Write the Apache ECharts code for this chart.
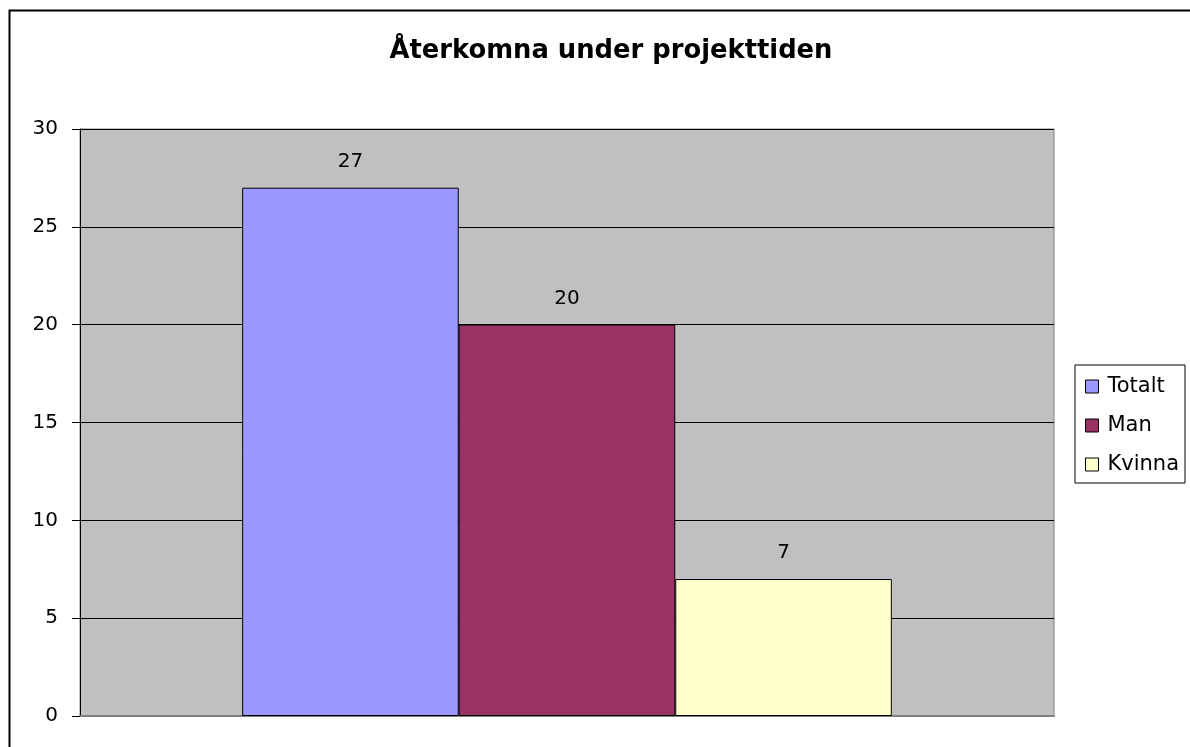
<!DOCTYPE html>
<html><head><meta charset="utf-8">
<script src="https://cdn.jsdelivr.net/npm/echarts@6/dist/echarts.min.js"></script>
<style>html,body{margin:0;padding:0;background:#fff}#c{width:1190px;height:747px}</style>
</head><body><div id="c"></div>
<script>
const title = 'Återkomna under projekttiden';
const categories = [''];
const seriesNames = ['Totalt', 'Man', 'Kvinna'];
const seriesValues = [[27], [20], [7]];
const colors = ['#9999ff', '#993366', '#ffffcc'];
const yTicks = { min: 0, max: 30, interval: 5 };
const FONT = 'DejaVu Sans';

const chart = echarts.init(document.getElementById('c'));
chart.setOption({
  animation: false,
  backgroundColor: '#fff',
  graphic: [{ type: 'rect', shape: { x: 9.5, y: 10.5, width: 1200, height: 800 }, style: { fill: 'none', stroke: '#000', lineWidth: 2 }, z: 100 }],
  title: { text: title, left: 606, textAlign: 'center', top: 33, textStyle: { fontFamily: FONT, fontSize: 25.8, fontWeight: 'bold', color: '#000' } },
  legend: {
    orient: 'vertical', left: 1075, top: 365,
    padding: [11, 6, 8, 10], itemGap: 18, itemWidth: 13, itemHeight: 13,
    borderColor: '#000', borderWidth: 1, backgroundColor: '#fff',
    icon: 'rect',
    itemStyle: { borderColor: '#000', borderWidth: 1 },
    textStyle: { fontFamily: FONT, fontSize: 21, color: '#000', padding: [0, 0, 0, 4] },
    data: seriesNames
  },
  grid: { left: 80, top: 129, right: 136, bottom: 31, show: true, backgroundColor: '#c0c0c0', borderColor: '#808080', borderWidth: 1 },
  xAxis: { type: 'category', data: categories, axisLine: { lineStyle: { color: '#808080', width: 2 } }, axisTick: { show: false }, axisLabel: { show: false } },
  yAxis: { type: 'value', min: yTicks.min, max: yTicks.max, interval: yTicks.interval,
    axisLine: { show: true, lineStyle: { color: '#000', width: 1 } },
    axisTick: { show: true, length: 8, lineStyle: { color: '#000' } },
    splitLine: { lineStyle: { color: '#000', width: 1 } },
    axisLabel: { fontFamily: FONT, fontSize: 20, color: '#000', margin: 22 } },
  series: seriesNames.map((n, i) => ({
    name: n, type: 'bar', data: seriesValues[i], barGap: '0%', barCategoryGap: '33.3%',
    itemStyle: { color: colors[i], borderColor: '#000', borderWidth: 1 },
    label: { show: true, position: 'top', distance: 16, fontFamily: FONT, fontSize: 20, color: '#000' }
  }))
});
</script></body></html>
